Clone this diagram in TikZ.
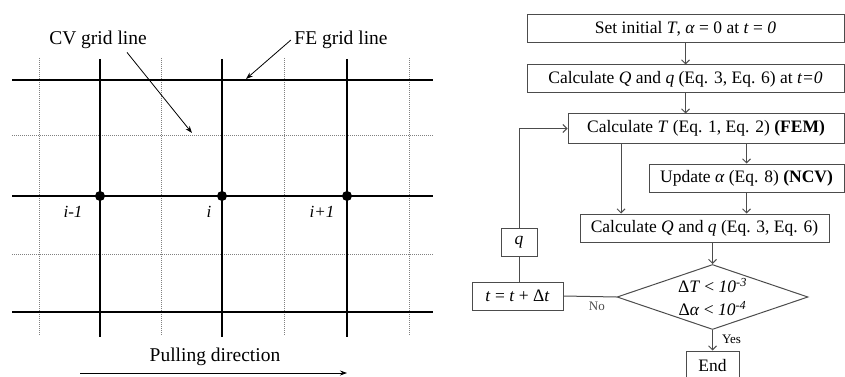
\documentclass[tikz,border=0pt]{standalone}
\usepackage{fontspec}
\setmainfont{Liberation Serif}
\usetikzlibrary{arrows.meta,positioning,shapes.geometric}

\begin{document}
\begin{tikzpicture}[x=1pt, y=-1pt,
  box/.style={draw=black!70, line width=1pt, inner sep=0pt, minimum height=28pt, font=\fontsize{17.5}{21}\selectfont, align=center},
  dec/.style={diamond, draw=black!70, line width=1pt, inner sep=0pt, shape aspect=2.94, minimum width=191pt, minimum height=65pt, font=\fontsize{17.5}{21}\selectfont, align=center},
  lab/.style={font=\fontsize{19.5}{23}\selectfont},
  yn/.style={font=\fontsize{13}{15}\selectfont, inner sep=1pt},
  idx/.style={font=\fontsize{17}{20}\selectfont\itshape},
  arr/.style={-{Straight Barb[length=4pt,width=8pt]}, draw=black!70, line width=1pt},
  ptr/.style={-{Stealth[length=7pt,width=5pt]}, line width=0.8pt},
  fe/.style={line width=1.4pt},
  cv/.style={line width=1pt, densely dotted, black!50},
  nd/.style={circle, fill=black, inner sep=0pt, minimum size=10pt}]
  \useasboundingbox (0,0) rectangle (845,377);
  % ---------------- grid (left)
  \foreach \yy in {135,254}{\draw[cv] (12,\yy) -- (433,\yy);}
  \foreach \xx in {39,161,284,409}{\draw[cv] (\xx,58) -- (\xx,335);}
  \foreach \yy in {80,196,312}{\draw[fe] (12,\yy) -- (433,\yy);}
  \foreach \xx in {100,222,347}{\draw[fe] (\xx,59) -- (\xx,337);}
  \node[nd] (nim1) at (100,196) {};
  \node[nd] (ni) at (222,196) {};
  \node[nd] (nip1) at (347,196) {};
  \node[idx] (lim1) at (73,212) {i-1};
  \node[idx] (li) at (209,212) {i};
  \node[idx] (lip1) at (322,212) {i+1};
  \node[lab] (cvlab) at (98,40) {CV grid line};
  \node[lab] (felab) at (341,40) {FE grid line};
  \coordinate (cvend) at (192,133);
  \coordinate (feend) at (246,79);
  \draw[ptr] ([xshift=29pt]cvlab.south) -- (cvend);
  \draw[ptr] (felab.west) -- (feend);
  \node[lab] (pull) at (215,357) {Pulling direction};
  \coordinate (ps) at (80,373);
  \coordinate (pe) at (347,373);
  \draw[ptr] (ps) -- (pe);
  % ---------------- flow chart (right)
  \node[box, minimum width=317pt] (init) at (685.5,29) {Set initial \textit{T}, \textit{α} = 0 at \textit{t} = \textit{0}};
  \node[box, minimum width=317pt] (calc0) at (685.5,79) {Calculate \textit{Q} and \textit{q} (Eq. 3, Eq. 6) at \textit{t=0}};
  \node[box, minimum width=276pt, minimum height=29pt] (fem) at (706,128.5) {Calculate \textit{T} (Eq. 1, Eq. 2) \textbf{(FEM)}};
  \node[box, minimum width=195pt] (ncv) at (746.5,178) {Update \textit{α} (Eq. 8) \textbf{(NCV)}};
  \node[box, minimum width=249pt] (calc) at (704.5,228) {Calculate \textit{Q} and \textit{q} (Eq. 3, Eq. 6)};
  \node[dec] (conv) at (712.5,297) {Δ\textit{T} < \textit{10\textsuperscript{-3}}\\[2pt] Δ\textit{α} < \textit{10\textsuperscript{-4}}};
  \node[box, minimum width=53pt, minimum height=30pt] (stop) at (712.5,366) {End};
  \node[box, minimum width=36pt] (flux) at (519,242) {\textit{q}};
  \node[box, minimum width=91pt] (tstep) at (517.5,296) {\textit{t} = \textit{t} + Δ\textit{t}};
  \draw[arr] (init) -- (init.south |- calc0.north);
  \draw[arr] (calc0) -- (calc0.south |- fem.north);
  \draw[arr] (ncv.north |- fem.south) -- (ncv);
  \draw[arr] ([xshift=-85pt]fem.south) -- ([xshift=-85pt]fem.south |- calc.north);
  \draw[arr] (ncv.south) -- (ncv.south |- calc.north);
  \draw[arr] (conv.north |- calc.south) -- (conv.north);
  \draw[arr] (conv.south) -- node[yn, right, pos=0.45, xshift=8pt]{Yes} (stop.north);
  \draw[black!70, line width=1pt] (conv.west) -- node[yn, below, pos=0.37, yshift=-4pt]{No} (tstep.east);
  \draw[black!70, line width=1pt] (tstep.north -| flux) -- (flux.south);
  \draw[arr] (flux.north) |- (fem.west);
\end{tikzpicture}
\end{document}
